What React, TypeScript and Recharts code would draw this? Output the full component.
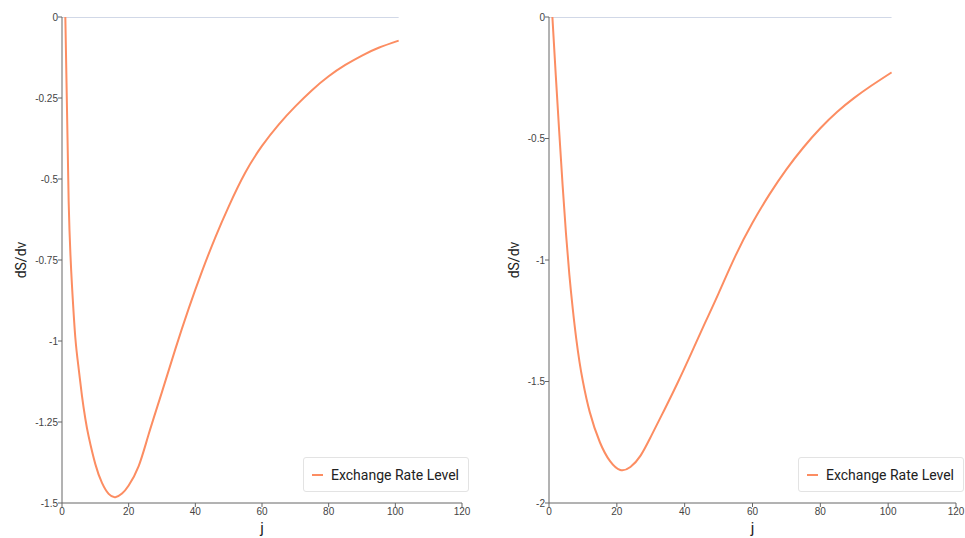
import React from "react";
import { LineChart, Line, XAxis, YAxis, Legend } from "recharts";

// j values (x) and dS/dv for the left panel
const leftJ = [1, 2, 3, 4, 5, 6, 7, 8, 10, 12, 14, 16, 18, 20, 23, 26, 30, 34, 38, 42, 46, 50, 55, 60, 65, 70, 75, 80, 85, 90, 95, 101];
const leftLevel = [0, -0.57, -0.83, -0.99, -1.085, -1.17, -1.24, -1.295, -1.38, -1.438, -1.472, -1.482, -1.471, -1.446, -1.386, -1.288, -1.157, -1.025, -0.9, -0.785, -0.68, -0.585, -0.48, -0.398, -0.332, -0.276, -0.226, -0.183, -0.148, -0.119, -0.095, -0.073];

// j values (x) and dS/dv for the right panel
const rightJ = [1, 2, 3, 4, 5, 6, 7, 8, 9, 10, 12, 15, 18, 21, 24, 27, 30, 34, 38, 42, 46, 50, 55, 60, 65, 70, 75, 80, 85, 90, 95, 101];
const rightLevel = [0, -0.24, -0.47, -0.69, -0.89, -1.06, -1.2, -1.32, -1.42, -1.5, -1.625, -1.75, -1.828, -1.864, -1.852, -1.805, -1.728, -1.617, -1.503, -1.382, -1.259, -1.137, -0.982, -0.847, -0.73, -0.627, -0.537, -0.458, -0.39, -0.333, -0.283, -0.228];

// zero reference line
const zeroJ = [0, 101];
const zeroLevel = [0, 0];

const xTicks = [0, 20, 40, 60, 80, 100, 120];
const leftYTicks = [0, -0.25, -0.5, -0.75, -1, -1.25, -1.5];
const rightYTicks = [0, -0.5, -1, -1.5, -2];

const SERIES_NAME = "Exchange Rate Level";
const LINE_COLOR = "#fc8d62";
const ZERO_COLOR = "#a3b2d0";
const AXIS_COLOR = "#666";

const toRows = (xs: number[], ys: number[]) => xs.map((j, i) => ({ j, v: ys[i] }));

const tickStyle = { fill: "#444", fontSize: 10, fontFamily: "Liberation Sans, Arial, sans-serif" };

function LegendBox({ payload }: any) {
  const items = (payload || []).filter((p: any) => p.type !== "none");
  return (
    <div
      style={{
        boxSizing: "border-box",
        width: 166,
        height: 35,
        border: "1px solid #e3e3e3",
        borderRadius: 3,
        background: "#fff",
        display: "flex",
        alignItems: "center",
        paddingLeft: 8,
        fontFamily: "Roboto, sans-serif",
        fontSize: 14,
        color: "#222",
      }}
    >
      {items.map((p: any) => (
        <span key={p.value} style={{ display: "flex", alignItems: "center" }}>
          <span style={{ display: "inline-block", width: 11, height: 2, background: p.color, marginRight: 8 }} />
          {p.value}
        </span>
      ))}
    </div>
  );
}

function Panel({
  data,
  yTicks,
  yMin,
  left,
  width,
  axisWidth,
  rightMargin,
  labelX,
  legendLeft,
}: {
  data: { j: number; v: number }[];
  yTicks: number[];
  yMin: number;
  left: number;
  width: number;
  axisWidth: number;
  rightMargin: number;
  labelX: number;
  legendLeft: number;
}) {
  return (
    <div style={{ position: "absolute", left, top: 0 }}>
      <LineChart width={width} height={538} margin={{ top: 17, right: rightMargin, left: 0, bottom: 0 }}>
        <XAxis
          type="number"
          dataKey="j"
          domain={[0, 120]}
          ticks={xTicks}
          height={35}
          stroke={AXIS_COLOR}
          tickSize={4}
          tickMargin={1}
          tick={tickStyle}
          allowDataOverflow
          label={(props: any) => {
            const vb = props.viewBox;
            return (
              <text
                x={vb.x + vb.width / 2}
                y={533}
                textAnchor="middle"
                fontFamily="Roboto, sans-serif"
                fontSize={15}
                fill="#222"
              >
                j
              </text>
            );
          }}
        />
        <YAxis
          type="number"
          domain={[yMin, 0]}
          ticks={yTicks}
          width={axisWidth}
          stroke={AXIS_COLOR}
          tickSize={4}
          tickMargin={0}
          tick={tickStyle}
          allowDataOverflow
          label={(props: any) => {
            const vb = props.viewBox;
            const cx = labelX;
            const cy = vb.y + vb.height / 2;
            return (
              <text
                x={cx}
                y={cy}
                transform={`rotate(-90, ${cx}, ${cy})`}
                textAnchor="middle"
                dominantBaseline="central"
                fontFamily="Roboto, sans-serif"
                fontSize={14}
                fill="#222"
              >
                dS/dv
              </text>
            );
          }}
        />
        <Legend
          layout="horizontal"
          verticalAlign="middle"
          align="center"
          wrapperStyle={{ left: legendLeft, top: 457, width: 166, height: 35 }}
          content={<LegendBox />}
        />
        <Line
          data={toRows(zeroJ, zeroLevel)}
          dataKey="v"
          name="zero"
          stroke={ZERO_COLOR}
          strokeWidth={1}
          dot={false}
          legendType="none"
          isAnimationActive={false}
        />
        <Line
          data={data}
          type="natural"
          dataKey="v"
          name={SERIES_NAME}
          stroke={LINE_COLOR}
          strokeWidth={2}
          dot={false}
          legendType="line"
          isAnimationActive={false}
        />
      </LineChart>
    </div>
  );
}

export default function App() {
  return (
    <div style={{ position: "absolute", left: 0, top: 0, width: 965, height: 538, background: "#fff" }}>
      <Panel
        data={toRows(leftJ, leftLevel)}
        yTicks={leftYTicks}
        yMin={-1.5}
        left={0}
        width={480}
        axisWidth={62}
        rightMargin={18}
        labelX={21}
        legendLeft={303}
      />
      <Panel
        data={toRows(rightJ, rightLevel)}
        yTicks={rightYTicks}
        yMin={-2}
        left={485}
        width={480}
        axisWidth={64}
        rightMargin={9}
        labelX={29}
        legendLeft={313}
      />
    </div>
  );
}
